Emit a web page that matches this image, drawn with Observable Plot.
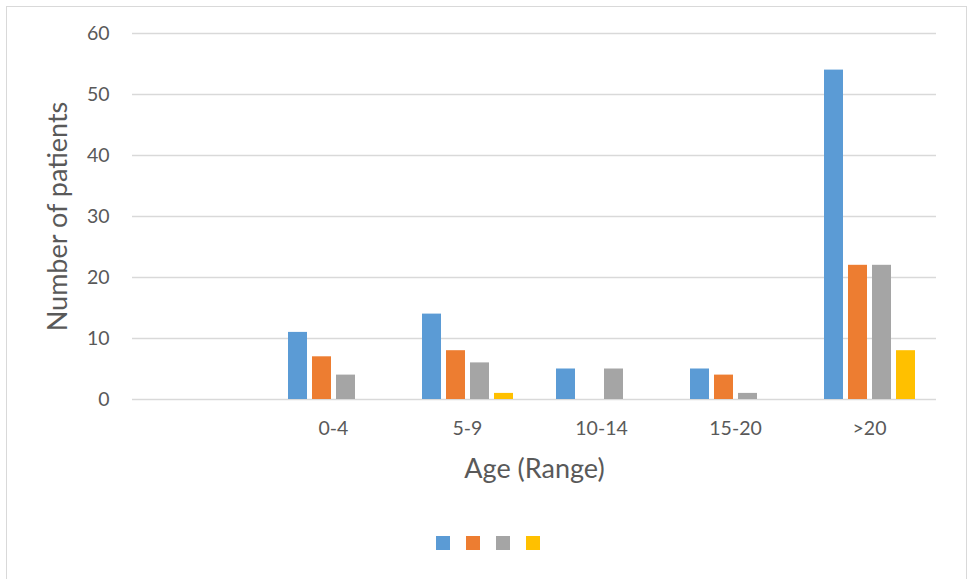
<!DOCTYPE html>
<html>
<head>
<meta charset="utf-8">
<script src="https://cdn.jsdelivr.net/npm/d3@7"></script>
<script src="https://cdn.jsdelivr.net/npm/@observablehq/plot@0.6"></script>
<style>
  html, body { margin: 0; padding: 0; background: #fff; }
  #wrap { position: relative; width: 969px; height: 579px; overflow: hidden; font-family: Lato, sans-serif; }
  #frame { position: absolute; left: 6px; top: 6px; width: 961px; height: 600px; border: 1px solid #d9d9d9; box-sizing: border-box; pointer-events: none; }
  #chart { position: absolute; left: 0; top: 0; }
  #legend { position: absolute; left: 436px; top: 536px; display: flex; gap: 16px; }
  #legend span { display: inline-block; width: 14px; height: 14px; }
</style>
</head>
<body>
<div id="wrap">
  <div id="frame"></div>
  <div id="chart"></div>
  <div id="legend"></div>
</div>
<script>
// Categories (first slot is blank in the original chart)
const fxDomain = ["", "0-4", "5-9", "10-14", "15-20", ">20"];
const categories = ["0-4", "5-9", "10-14", "15-20", ">20"];
const series = ["Series 1", "Series 2", "Series 3", "Series 4"];
const colors = ["#5b9bd5", "#ed7d31", "#a5a5a5", "#ffc000"];
const series1 = [11, 14, 5, 5, 54];
const series2 = [7, 8, 0, 4, 22];
const series3 = [4, 6, 5, 1, 22];
const series4 = [0, 1, 0, 0, 8];
const yTicks = [0, 10, 20, 30, 40, 50, 60];

const values = [series1, series2, series3, series4];
const data = categories.flatMap((c, i) =>
  series.map((s, j) => ({category: c, series: s, value: values[j][i]}))
);
const grid = fxDomain.flatMap(c => yTicks.map(t => ({category: c, t})));

const chart = Plot.plot({
  width: 969,
  height: 500,
  marginLeft: 130,
  marginRight: 31,
  marginTop: 33,
  marginBottom: 101,
  style: {fontFamily: "Lato, sans-serif", color: "#595959", background: "transparent"},
  fx: {domain: fxDomain, padding: 0},
  x: {domain: series, paddingInner: 0.22, paddingOuter: 0.84, axis: null},
  y: {domain: [0, 60]},
  color: {domain: series, range: colors},
  marks: [
    Plot.ruleY(grid, {fx: "category", y: "t", stroke: "#d9d9d9", strokeWidth: 1.3}),
    Plot.barY(data.filter(d => d.value > 0), {fx: "category", x: "series", y: "value", fill: "series"}),
    Plot.axisY({ticks: yTicks, tickSize: 0, tickPadding: 23, fontSize: 19.5, label: null, fill: "#595959"}),
    Plot.axisY({ticks: yTicks, tickSize: 0, tickFormat: () => "", label: "Number of patients", labelAnchor: "center", labelArrow: "none", labelOffset: 85, fontSize: 27, fill: "#595959"}),
    Plot.axisFx({anchor: "bottom", tickSize: 0, tickPadding: 22, fontSize: 19.5, label: null, fill: "#595959"}),
    Plot.axisFx({anchor: "bottom", tickSize: 0, tickFormat: () => "", label: "Age (Range)", labelAnchor: "center", labelArrow: "none", labelOffset: 78, fontSize: 27, fill: "#595959"})
  ]
});
document.getElementById("chart").appendChild(chart);

const legend = document.getElementById("legend");
colors.forEach(c => {
  const s = document.createElement("span");
  s.style.background = c;
  legend.appendChild(s);
});
</script>
</body>
</html>
